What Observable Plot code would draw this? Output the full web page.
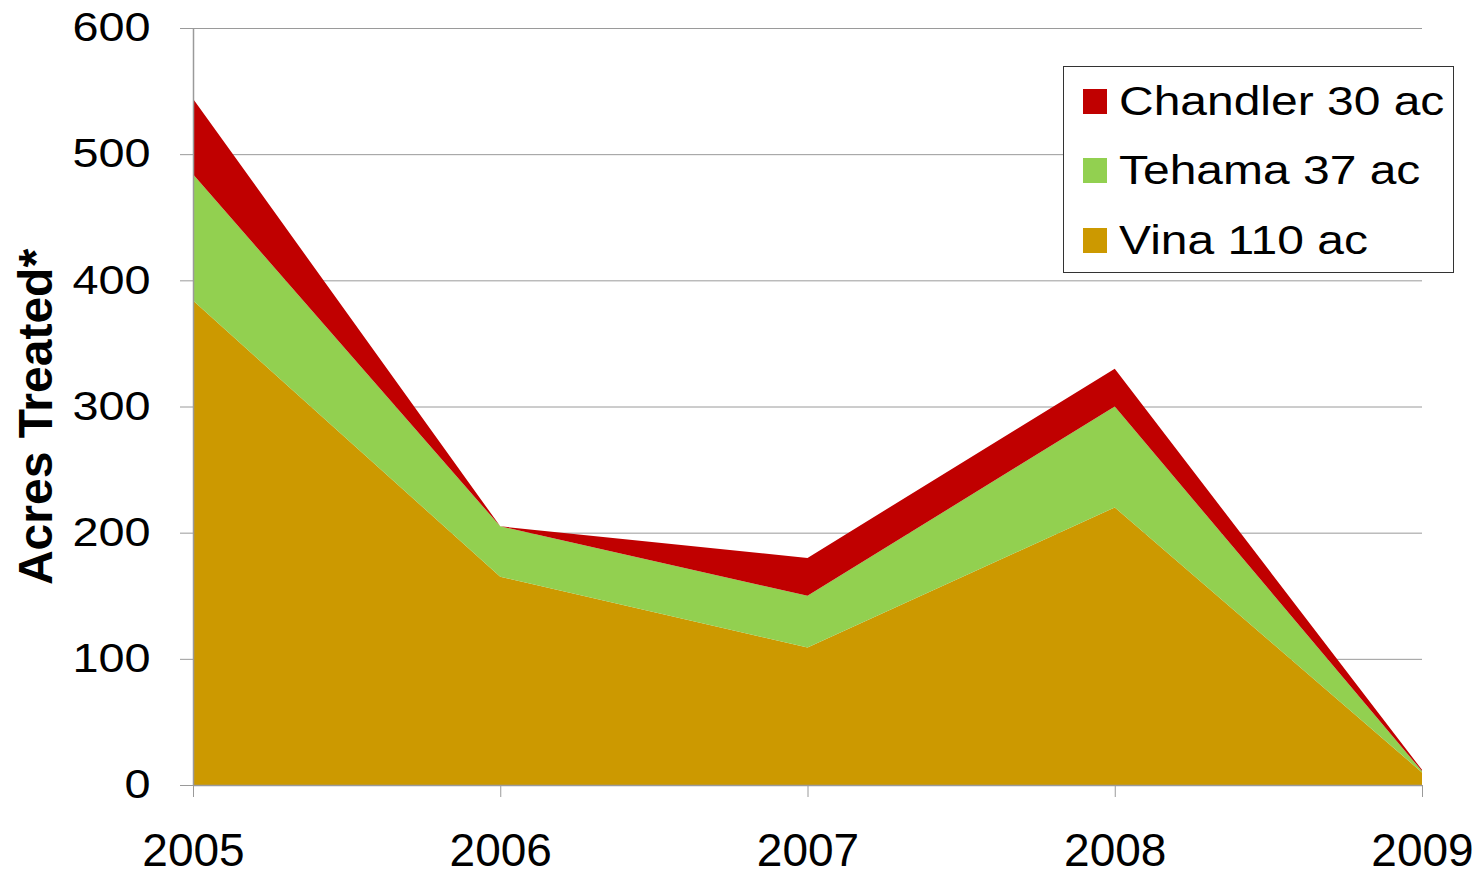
<!DOCTYPE html>
<html>
<head>
<meta charset="utf-8">
<script src="https://cdn.jsdelivr.net/npm/d3@7"></script>
<script src="https://cdn.jsdelivr.net/npm/@observablehq/plot@0.6"></script>
<style>
  html, body { margin: 0; padding: 0; background: #fff; }
  #wrap { position: relative; width: 1480px; height: 877px; font-family: "Liberation Sans", Arial, sans-serif; }
  #legend { position: absolute; left: 1063px; top: 66px; width: 391px; height: 207px; border: 1.5px solid #333; background: #fff; box-sizing: border-box; }
  .row { position: absolute; left: 19px; height: 50px; display: flex; align-items: center; font-size: 41px; color: #000; white-space: nowrap; }
  .sw { width: 24px; height: 25px; margin-right: 12px; flex: none; }
  .row span { display: inline-block; transform: scaleX(1.17); transform-origin: left center; }
</style>
</head>
<body>
<div id="wrap"></div>
<script>
const years = [2005, 2006, 2007, 2008, 2009];
const seriesNames = ["Vina 110 ac", "Tehama 37 ac", "Chandler 30 ac"];
const vina = [384, 165, 109, 220, 10];
const tehama = [100, 40, 41, 80, 1];
const chandler = [60, 0, 30, 30, 1];
const seriesColors = ["#CC9900", "#92D050", "#C00000"];
const yTicks = [0, 100, 200, 300, 400, 500, 600];
const legendOrder = ["Chandler 30 ac", "Tehama 37 ac", "Vina 110 ac"];

const seriesValues = [vina, tehama, chandler];
const data = [];
years.forEach((yr, i) => {
  seriesNames.forEach((s, j) => data.push({year: yr, series: s, value: seriesValues[j][i]}));
});

const chart = Plot.plot({
  width: 1480,
  height: 877,
  marginLeft: 193,
  marginRight: 58,
  marginTop: 28,
  marginBottom: 92,
  style: {fontFamily: "'Liberation Sans', Arial, sans-serif", background: "#fff"},
  x: {domain: [2005, 2009]},
  y: {domain: [0, 600]},
  color: {domain: seriesNames, range: seriesColors},
  marks: [
    Plot.gridY(yTicks, {stroke: "#9a9a9a", strokeOpacity: 1, strokeWidth: 1}),
    Plot.areaY(data, {x: "year", y: "value", z: "series", fill: "series", order: seriesNames}),
    Plot.ruleX([2005], {stroke: "#9a9a9a", strokeWidth: 1.5}),
    Plot.ruleY([0], {stroke: "#9a9a9a", strokeWidth: 1.5}),
    Plot.axisY(yTicks, {tickSize: 13, tickPadding: 30, fontSize: 40, stroke: "#9a9a9a", fill: "#000", label: null}),
    Plot.axisX(years, {tickSize: 12, tickPadding: 36, fontSize: 46, stroke: "#9a9a9a", fill: "#000", tickFormat: d => String(d), label: null}),
    Plot.text(["Acres Treated*"], {frameAnchor: "left", textAnchor: "middle", dx: -157, dy: 10, rotate: -90, fontSize: 48, fontWeight: "bold", fill: "#000"})
  ]
});

// widen the y tick labels horizontally, as in the reference
d3.select(chart).selectAll('g[aria-label="y-axis tick label"] text').each(function() {
  const t = this.getAttribute("transform") || "";
  this.setAttribute("transform", t + " scale(1.17,1)");
});

const wrap = document.getElementById("wrap");
wrap.appendChild(chart);

const legend = document.createElement("div");
legend.id = "legend";
const colorOf = Object.fromEntries(seriesNames.map((s, i) => [s, seriesColors[i]]));
legendOrder.forEach((s, i) => {
  const row = document.createElement("div");
  row.className = "row";
  row.style.top = (9 + i * 69.5) + "px";
  const sw = document.createElement("div");
  sw.className = "sw";
  sw.style.background = colorOf[s];
  const t = document.createElement("span");
  t.textContent = s;
  row.appendChild(sw);
  row.appendChild(t);
  legend.appendChild(row);
});
wrap.appendChild(legend);
</script>
</body>
</html>
